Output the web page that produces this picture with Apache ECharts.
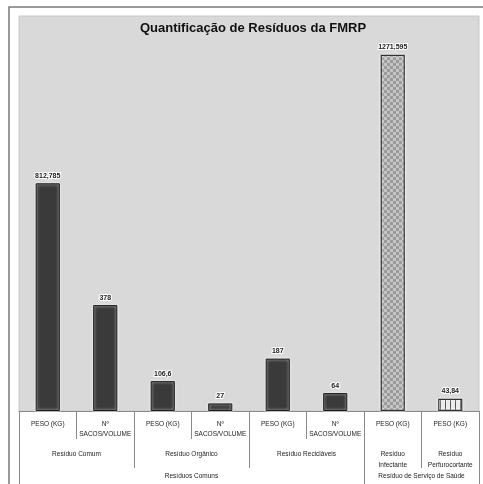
<!DOCTYPE html>
<html>
<head>
<meta charset="utf-8">
<script src="https://cdn.jsdelivr.net/npm/echarts@6/dist/echarts.min.js"></script>
<style>
html,body{margin:0;padding:0;background:#fff;}
#chart{width:483px;height:484px;}
</style>
</head>
<body>
<div id="chart"></div>
<script>
// ---- data ----
var categories = ['PESO (KG)', 'Nº\nSACOS/VOLUME', 'PESO (KG)', 'Nº\nSACOS/VOLUME', 'PESO (KG)', 'Nº\nSACOS/VOLUME', 'PESO (KG)', 'PESO (KG)'];
var values = [812.785, 378, 106.6, 27, 187, 64, 1271.595, 43.84];
var subGroups = ['Resíduo Comum', 'Resíduo Orgânico', 'Resíduo Recicláveis', 'Resíduo\nInfectante', 'Resíduo\nPerfurocortante'];
var subGroupSpans = [2, 2, 2, 1, 1];
var topGroups = ['Resíduos Comuns', 'Resíduo de Serviço de Saúde'];
var topGroupSpans = [6, 2];
var titleText = 'Quantificação de Resíduos da FMRP';

// ---- patterns ----
function checkerPattern() {
  var c = document.createElement('canvas'); c.width = 6; c.height = 6;
  var g = c.getContext('2d');
  g.fillStyle = '#c4c4c4'; g.fillRect(0, 0, 6, 6);
  g.fillStyle = '#9a9a9a'; g.fillRect(0, 0, 3, 3); g.fillRect(3, 3, 3, 3);
  return c;
}
function stripePattern() {
  var c = document.createElement('canvas'); c.width = 5; c.height = 4;
  var g = c.getContext('2d');
  g.fillStyle = '#ececec'; g.fillRect(0, 0, 5, 4);
  g.fillStyle = '#555'; g.fillRect(0, 0, 1, 4);
  return c;
}
var fills = [null, null, null, null, null, null,
  { image: checkerPattern(), repeat: 'repeat' },
  { image: stripePattern(), repeat: 'repeat' }];

// ---- helper axes built from group spans (half-unit positions) ----
function halfAxis(names, spans) {
  var n = 0; spans.forEach(function (s) { n += s; });
  var data = []; for (var i = 0; i <= n * 2; i++) data.push('');
  var tickIdx = { 0: true }; var labelIdx = {};
  var pos = 0;
  names.forEach(function (nm, k) {
    var mid = pos * 2 + spans[k];
    data[mid] = nm; labelIdx[mid] = true;
    pos += spans[k]; tickIdx[pos * 2] = true;
  });
  return { data: data, tickIdx: tickIdx, labelIdx: labelIdx };
}
var ax2 = halfAxis(subGroups, subGroupSpans);
var ax3 = halfAxis(topGroups, topGroupSpans);

var FONT = 'Liberation Sans';
var chart = echarts.init(document.getElementById('chart'), null, { renderer: 'canvas' });

var seriesData = values.map(function (v, i) {
  var d = { value: v };
  if (fills[i]) d.itemStyle = { color: fills[i], borderColor: '#333', borderWidth: 1.2 };
  return d;
});

chart.setOption({
  backgroundColor: '#fff',
  animation: false,
  title: {
    text: titleText, left: 248, textAlign: 'center', top: 17,
    textStyle: { fontFamily: FONT, fontSize: 13, fontWeight: 'bold', color: '#111' }
  },
  graphic: [{
    type: 'rect', shape: { x: 9, y: 7, width: 490, height: 490 },
    style: { fill: 'none', stroke: '#7a7a7a', lineWidth: 1.5 }, silent: true, z: 100
  }],
  grid: {
    left: 19, right: 4, top: 16, bottom: 73, show: true,
    backgroundColor: '#d9d9d9', borderColor: '#c8c8c8', borderWidth: 1
  },
  yAxis: { type: 'value', min: 0, max: 1410, show: false },
  xAxis: [{
    type: 'category', data: categories, position: 'bottom',
    axisLine: { show: true, lineStyle: { color: '#8a8a8a', width: 1 } },
    axisTick: { show: true, length: 28, lineStyle: { color: '#8a8a8a' } },
    axisLabel: { interval: 0, margin: 8, fontFamily: FONT, fontSize: 6.5, color: '#222', lineHeight: 10 }
  }, {
    type: 'category', data: ax2.data, boundaryGap: false, position: 'bottom',
    axisLine: { show: false },
    axisTick: { show: true, length: 57, lineStyle: { color: '#8a8a8a' },
      interval: function (i) { return !!ax2.tickIdx[i]; } },
    axisLabel: { margin: 38, fontFamily: FONT, fontSize: 6.5, color: '#222', lineHeight: 11,
      interval: function (i) { return !!ax2.labelIdx[i]; } }
  }, {
    type: 'category', data: ax3.data, boundaryGap: false, position: 'bottom',
    axisLine: { show: false },
    axisTick: { show: true, length: 73, lineStyle: { color: '#8a8a8a' },
      interval: function (i) { return !!ax3.tickIdx[i]; } },
    axisLabel: { margin: 62, fontFamily: FONT, fontSize: 6.5, color: '#222',
      interval: function (i) { return !!ax3.labelIdx[i]; } }
  }],
  series: [{
    type: 'bar', xAxisIndex: 0, data: seriesData, barWidth: '42%',
    itemStyle: { color: '#3a3a3a', borderColor: '#1c1c1c', borderWidth: 1,
      shadowColor: 'rgba(255,255,255,0.9)', shadowBlur: 3 },
    label: {
      show: true, position: 'top', distance: 4,
      fontFamily: FONT, fontSize: 7, fontWeight: 'bold', color: '#222',
      textBorderColor: '#fff', textBorderWidth: 2,
      formatter: function (p) { return String(p.value).replace('.', ','); }
    }
  }]
});
</script>
</body>
</html>
